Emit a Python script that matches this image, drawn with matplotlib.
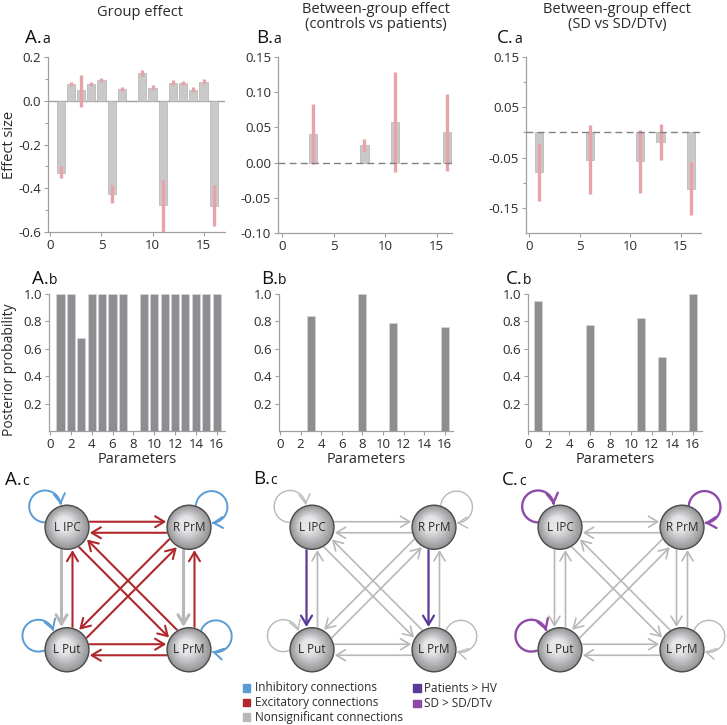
import numpy as np
import matplotlib
matplotlib.use("Agg")
import matplotlib.pyplot as plt
from matplotlib.patches import Circle, Rectangle, FancyArrowPatch
from matplotlib.path import Path

plt.rcParams['font.family'] = ['Open Sans', 'DejaVu Sans']

W, H = 727, 725
fig = plt.figure(figsize=(W / 100, H / 100), dpi=100)

nan = np.nan
params = np.arange(1, 17)

# ---------------- data ----------------
group_effect = [-0.33, 0.078, 0.048, 0.075, 0.095, -0.425, 0.052, nan,
                0.125, 0.060, -0.475, 0.082, 0.080, 0.050, 0.085, -0.480]
group_lo = [-0.355, 0.066, -0.027, 0.067, 0.085, -0.468, 0.044, nan,
            0.114, 0.050, -0.620, 0.074, 0.070, 0.040, 0.076, -0.572]
group_hi = [-0.300, 0.088, 0.120, 0.084, 0.106, -0.386, 0.064, nan,
            0.139, 0.071, -0.360, 0.093, 0.091, 0.061, 0.098, -0.386]

ctrl_effect = [nan, nan, 0.040, nan, nan, nan, nan, 0.025,
               nan, nan, 0.058, nan, nan, nan, nan, 0.043]
ctrl_lo = [nan, nan, -0.002, nan, nan, nan, nan, 0.015,
           nan, nan, -0.013, nan, nan, nan, nan, -0.012]
ctrl_hi = [nan, nan, 0.083, nan, nan, nan, nan, 0.034,
           nan, nan, 0.129, nan, nan, nan, nan, 0.098]

sd_effect = [-0.078, nan, nan, nan, nan, -0.055, nan, nan,
             nan, nan, -0.057, nan, -0.019, nan, nan, -0.112]
sd_lo = [-0.137, nan, nan, nan, nan, -0.122, nan, nan,
         nan, nan, -0.120, nan, -0.055, nan, nan, -0.165]
sd_hi = [-0.021, nan, nan, nan, nan, 0.015, nan, nan,
         nan, nan, 0.005, nan, 0.017, nan, nan, -0.058]

group_pp = [1.0, 1.0, 0.68, 1.0, 1.0, 1.0, 1.0, nan,
            1.0, 1.0, 1.0, 1.0, 1.0, 1.0, 1.0, 1.0]
ctrl_pp = [nan, nan, 0.838, nan, nan, nan, nan, 1.0,
           nan, nan, 0.787, nan, nan, nan, nan, 0.756]
sd_pp = [0.949, nan, nan, nan, nan, 0.774, nan, nan,
         nan, nan, 0.826, nan, 0.538, nan, nan, 1.0]

nodes = ["L IPC", "R PrM", "L Put", "L PrM"]
edges = [("L IPC", "R PrM"), ("R PrM", "L IPC"), ("L Put", "L PrM"), ("L PrM", "L Put"),
         ("L IPC", "L Put"), ("L Put", "L IPC"), ("R PrM", "L PrM"), ("L PrM", "R PrM"),
         ("L IPC", "L PrM"), ("L PrM", "L IPC"), ("R PrM", "L Put"), ("L Put", "R PrM")]
group_edges = ["exc"] * 4 + ["ns", "exc", "ns", "exc"] + ["exc"] * 4
group_loops = ["inh"] * 4
ctrl_edges = ["ns"] * 4 + ["pat", "ns", "pat", "ns"] + ["ns"] * 4
ctrl_loops = ["ns"] * 4
sd_edges = ["ns"] * 12
sd_loops = ["sd", "sd", "sd", "ns"]

legend_left = ["Inhibitory connections", "Excitatory connections", "Nonsignificant connections"]
legend_right = ["Patients > HV", "SD > SD/DTv"]

# ---------------- styling ----------------
TXT = '#2a2a2a'
AXC = '#a0a0a0'
COL = {"exc": '#b0282c', "inh": '#5b9bd5', "ns": '#b8b8b8',
       "pat": '#5a3a96', "sd": '#8e4aa8'}


def px_axes(l, t, r, b):
    return fig.add_axes([l / W, 1 - b / H, (r - l) / W, (b - t) / H])


def style(ax):
    for s in ['top', 'right']:
        ax.spines[s].set_visible(False)
    for s in ['left', 'bottom']:
        ax.spines[s].set_color(AXC)
        ax.spines[s].set_linewidth(0.9)
    ax.tick_params(colors=AXC, labelcolor=TXT, labelsize=9.5, length=3,
                   width=0.8, direction='out', pad=2)
    ax.tick_params(which='minor', length=2, colors=AXC, width=0.8)


def effect_panel(ax, vals, lo, hi, xlim, ylim, yticks, yminor, dashed, fmt):
    v = np.array(vals, float)
    lo = np.array(lo, float)
    hi = np.array(hi, float)
    m = ~np.isnan(v)
    ax.bar(params[m], v[m], width=0.8, color='#c9c9c9', edgecolor='#b3b3b3',
           linewidth=0.5, zorder=2)
    ax.vlines(params[m], lo[m], hi[m], color='#e8a3a8', lw=2.4, zorder=3)
    if dashed:
        ax.axhline(0, color='#808080', lw=1.0, ls=(0, (5, 3)), zorder=4)
    else:
        ax.axhline(0, color='#a0a0a0', lw=1.0, zorder=1)
    ax.set_xlim(*xlim)
    ax.set_ylim(*ylim)
    ax.set_xticks([0, 5, 10, 15])
    ax.set_yticks(yticks)
    ax.set_yticklabels([fmt.format(t) for t in yticks])
    ax.set_yticks(yminor, minor=True)
    style(ax)


def pp_panel(ax, vals, xlim):
    v = np.array(vals, float)
    m = ~np.isnan(v)
    ax.bar(params[m], v[m], width=0.78, color='#8e8e92', edgecolor='#d8d8d8',
           linewidth=0.4, zorder=2)
    ax.set_xlim(*xlim)
    ax.set_ylim(0, 1.0)
    ax.set_xticks(np.arange(0, 17, 2))
    ax.set_yticks([0.2, 0.4, 0.6, 0.8, 1.0])
    ax.set_yticklabels(['0.2', '0.4', '0.6', '0.8', '1.0'])
    style(ax)
    ax.set_xlabel('Parameters', fontsize=10.5, color=TXT, labelpad=1)


# ---------------- row a ----------------
axA = px_axes(48, 57, 225, 232)
effect_panel(axA, group_effect, group_lo, group_hi, (-0.24, 17.1), (-0.6, 0.2),
             [-0.6, -0.4, -0.2, 0.0, 0.2], [-0.5, -0.3, -0.1, 0.1], False, '{:.1f}')
axA.set_ylabel('Effect size', fontsize=10.5, color=TXT)

axB = px_axes(278, 57, 452, 233)
effect_panel(axB, ctrl_effect, ctrl_lo, ctrl_hi, (-0.4, 16.5), (-0.1, 0.15),
             [-0.10, -0.05, 0.0, 0.05, 0.10, 0.15], [], True, '{:.2f}')

axC = px_axes(526, 57, 701, 233)
effect_panel(axC, sd_effect, sd_lo, sd_hi, (-0.3, 17.0), (-0.2, 0.15),
             [-0.15, -0.05, 0.05, 0.15], [-0.1, 0.0, 0.1], True, '{:.2f}')

# ---------------- row b ----------------
axAb = px_axes(49, 294, 225, 431)
pp_panel(axAb, group_pp, (-0.1, 16.8))
axAb.set_ylabel('Posterior probability', fontsize=10, color=TXT)
axBb = px_axes(279, 294, 453, 431)
pp_panel(axBb, ctrl_pp, (-0.1, 16.8))
axCb = px_axes(528, 294, 702, 431)
pp_panel(axCb, sd_pp, (0.0, 16.9))

# y label placement (anchor = right edge of rotated text)
axA.yaxis.set_label_coords(-31 / 177, 0.5)
axAb.yaxis.set_label_coords(-32 / 176, 0.45)

# ---------------- titles ----------------
fig.text(140 / W, 1 - 13 / H, 'Group effect', ha='center', va='center', fontsize=10.5, color=TXT)
fig.text(376 / W, 1 - 17 / H, 'Between-group effect\n(controls vs patients)', ha='center',
         va='center', fontsize=10.5, color=TXT, linespacing=1.05)
fig.text(617 / W, 1 - 17 / H, 'Between-group effect\n(SD vs SD/DTv)', ha='center',
         va='center', fontsize=10.5, color=TXT, linespacing=1.05)


def panel_label(x, y, big, small):
    fig.text(x / W, 1 - y / H, big, fontsize=13.5, color='#111', va='baseline')
    fig.text((x + 17) / W, 1 - y / H, small, fontsize=10, color='#111', va='baseline')


for (x, y, big, small) in [(25, 43, 'A.', 'a'), (256, 43, 'B.', 'a'), (497, 43, 'C.', 'a'),
                           (32, 284, 'A.', 'b'), (261, 284, 'B.', 'b'), (506, 284, 'C.', 'b'),
                           (5, 485, 'A.', 'c'), (253, 484, 'B.', 'c'), (502, 485, 'C.', 'c')]:
    panel_label(x, y, big, small)

# ---------------- networks ----------------
node_pos = {"L IPC": (0.0, 1.0), "R PrM": (1.0, 1.0), "L Put": (0.0, 0.0), "L PrM": (1.0, 0.0)}
loop_center = {"L IPC": (-0.18, 0.17), "R PrM": (0.185, 0.165),
               "L Put": (-0.235, 0.115), "L PrM": (0.22, 0.11)}
R_NODE = 0.18
R_LOOP = 0.13
OFF = 0.045


def draw_node(ax, name):
    cx, cy = node_pos[name]
    n = 24
    c0 = np.array([0.58, 0.58, 0.59])
    c1 = np.array([0.90, 0.90, 0.91])
    for k in range(n):
        f = k / n
        r = R_NODE * (1 - 0.85 * f)
        col = c0 + (c1 - c0) * min(1.0, f * 1.3)
        ax.add_patch(Circle((cx - 0.03 * f, cy + 0.035 * f), r, facecolor=col,
                            edgecolor='none', zorder=5))
    ax.add_patch(Circle((cx, cy), R_NODE, facecolor='none', edgecolor='#4a4a4a',
                        lw=1.0, zorder=6))
    ax.text(cx, cy, name, ha='center', va='center', fontsize=8.5, color='#2a2a2a', zorder=7)


def arrow_style():
    return '->,head_length=0.55,head_width=0.33'


def draw_network(ax, edge_cats, loop_cats, ns_lw):
    lw = {"exc": 1.5, "inh": 1.4, "ns": ns_lw, "pat": 1.6, "sd": 1.7}
    for (s, d), cat in zip(edges, edge_cats):
        p0 = np.array(node_pos[s])
        p1 = np.array(node_pos[d])
        u = (p1 - p0) / np.linalg.norm(p1 - p0)
        perp = np.array([-u[1], u[0]])
        side = 1 if abs(u[1]) < 1e-9 else -1
        o = side * OFF
        a = np.sqrt(R_NODE ** 2 - OFF ** 2) + 0.012
        A = p0 + u * a + perp * o
        B = p1 - u * a + perp * o
        ax.add_patch(FancyArrowPatch(A, B, arrowstyle=arrow_style(), mutation_scale=12,
                                     color=COL[cat], lw=lw[cat], shrinkA=0, shrinkB=0,
                                     zorder=3))
    for name, cat in zip(nodes, loop_cats):
        nx, ny = node_pos[name]
        ox, oy = loop_center[name]
        c = np.array([nx + ox, ny + oy])
        nvec = np.array([nx, ny]) - c
        d = np.linalg.norm(nvec)
        phi = np.arctan2(nvec[1], nvec[0])
        rn = R_NODE + 0.01
        alpha = np.arccos((R_LOOP ** 2 + d ** 2 - rn ** 2) / (2 * R_LOOP * d))
        th = np.linspace(phi - alpha, phi + alpha - 2 * np.pi, 80)
        pts = np.column_stack([c[0] + R_LOOP * np.cos(th), c[1] + R_LOOP * np.sin(th)])
        llw = 1.0 if cat == "ns" else lw[cat]
        ax.add_patch(FancyArrowPatch(path=Path(pts), arrowstyle=arrow_style(),
                                     mutation_scale=12, color=COL[cat], lw=llw,
                                     shrinkA=0, shrinkB=0, zorder=3))
    for name in nodes:
        draw_node(ax, name)
    ax.set_xlim(-0.5, 1.5)
    ax.set_ylim(-0.5, 1.5)
    ax.axis('off')


for x0, ecats, lcats, nslw in [(67, group_edges, group_loops, 2.2),
                               (312, ctrl_edges, ctrl_loops, 1.2),
                               (560, sd_edges, sd_loops, 1.2)]:
    y0 = 527
    axn = px_axes(x0 - 61, y0 - 61, x0 + 122 + 61, y0 + 123 + 61)
    draw_network(axn, ecats, lcats, nslw)

# ---------------- legend ----------------
for i, (lab, cat) in enumerate(zip(legend_left, ["inh", "exc", "ns"])):
    y = 688 + i * 14.5
    fig.add_artist(Rectangle((243 / W, 1 - (y + 3.5) / H), 7.5 / W, 7.5 / H,
                             transform=fig.transFigure, color=COL[cat]))
    fig.text(255 / W, 1 - y / H, lab, fontsize=8.5, color=TXT, va='center')
for i, (lab, cat) in enumerate(zip(legend_right, ["pat", "sd"])):
    y = 688 + i * 15.5
    fig.add_artist(Rectangle((413 / W, 1 - (y + 3.5) / H), 7.5 / W, 7.5 / H,
                             transform=fig.transFigure, color=COL[cat]))
    fig.text(424 / W, 1 - y / H, lab, fontsize=8.5, color=TXT, va='center')

fig.savefig('out.png', dpi=100, facecolor='white')
